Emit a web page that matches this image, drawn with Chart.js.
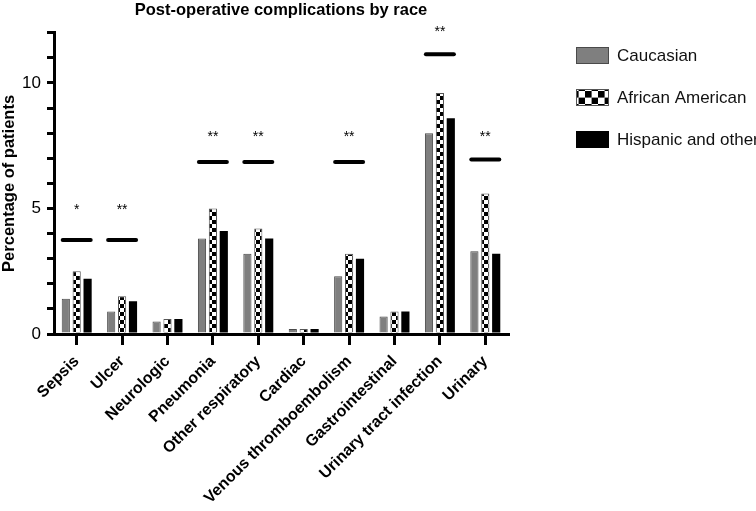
<!DOCTYPE html>
<html>
<head>
<meta charset="utf-8">
<script src="https://cdn.jsdelivr.net/npm/chart.js@4"></script>
<style>
html, body { margin: 0; padding: 0; background: #fff; }
</style>
</head>
<body>
<canvas id="myChart" width="756" height="511"></canvas>
<script>
// data (percent of patients)
var categories = ['Sepsis', 'Ulcer', 'Neurologic', 'Pneumonia', 'Other respiratory', 'Cardiac',
	'Venous thromboembolism', 'Gastrointestinal', 'Urinary tract infection', 'Urinary'];
var caucasian = [1.4, 0.9, 0.5, 3.8, 3.2, 0.2, 2.3, 0.7, 8.0, 3.3];
var africanAmerican = [2.5, 1.5, 0.6, 5.0, 4.2, 0.2, 3.2, 0.9, 9.6, 5.6];
var hispanicOther = [2.2, 1.3, 0.6, 4.1, 3.8, 0.2, 3.0, 0.9, 8.6, 3.2];
var seriesNames = ['Caucasian', 'African American', 'Hispanic and other'];

// significance markers per category
var sigMarks = ['*', '**', '', '**', '**', '', '**', '', '**', '**'];
var sigLineAt = [3.75, 3.75, null, 6.85, 6.85, null, 6.85, null, 11.15, 6.95];
var sigStarAt = [5.1, 5.1, null, 8.0, 8.0, null, 8.0, null, 12.2, 8.0];

var yTickLabels = [0, 5, 10];

var FONT = "'Liberation Sans', Arial, Helvetica, sans-serif";

function checker(size){
	var c = document.createElement('canvas');
	c.width = size * 2;
	c.height = size * 2;
	var g = c.getContext('2d');
	g.fillStyle = '#fff';
	g.fillRect(0, 0, size * 2, size * 2);
	g.fillStyle = '#000';
	g.fillRect(0, 0, size, size);
	g.fillRect(size, size, size, size);
	return g.createPattern(c, 'repeat');
}

var ctx = document.getElementById('myChart').getContext('2d');
var barPattern = checker(4);
var legendPattern = checker(6.6);

var sigPlugin = {
	id: 'sigMarks',
	afterDatasetsDraw: function(chart){
		var x = chart.scales.x, y = chart.scales.y, c = chart.ctx;
		c.save();
		for (var i = 0; i < categories.length; i++){
			if (sigLineAt[i] === null) continue;
			var px = x.getPixelForValue(i);
			var ly = y.getPixelForValue(sigLineAt[i]);
			c.strokeStyle = '#000';
			c.lineWidth = 4;
			c.lineCap = 'round';
			c.beginPath();
			c.moveTo(px - 14, ly);
			c.lineTo(px + 14, ly);
			c.stroke();
			var sy = y.getPixelForValue(sigStarAt[i]);
			c.fillStyle = '#000';
			c.font = '14px ' + FONT;
			c.textAlign = 'center';
			c.textBaseline = 'alphabetic';
			c.fillText(sigMarks[i], px, sy + 8);
		}
		c.restore();
	}
};

var legendPlugin = {
	id: 'sideLegend',
	afterDraw: function(chart){
		var c = chart.ctx;
		c.save();
		chart.data.datasets.forEach(function(ds, i){
			var top = 47 + i * 42;
			c.fillStyle = i === 1 ? legendPattern : ds.backgroundColor;
			c.fillRect(576, top, 33, 17);
			c.strokeStyle = ds.borderColor;
			c.lineWidth = 1;
			c.strokeRect(576.5, top + 0.5, 32, 16);
			c.fillStyle = '#111';
			c.font = '17px ' + FONT;
			c.textAlign = 'left';
			c.textBaseline = 'middle';
			c.fillText(ds.label, 617, top + 9);
		});
		c.restore();
	}
};

var myChart = new Chart(ctx, {
	type: 'bar',
	data: {
		labels: categories,
		datasets: [{
			label: seriesNames[0],
			data: caucasian,
			backgroundColor: '#7f7f7f',
			borderColor: '#4a4a4a',
			borderWidth: 1
		}, {
			label: seriesNames[1],
			data: africanAmerican,
			backgroundColor: barPattern,
			borderColor: '#555',
			borderWidth: 1
		}, {
			label: seriesNames[2],
			data: hispanicOther,
			backgroundColor: '#000',
			borderColor: '#000',
			borderWidth: 0
		}]
	},
	options: {
		responsive: false,
		animation: false,
		categoryPercentage: 0.72,
		barPercentage: 0.75,
		layout: { padding: { left: 0, right: 248, top: 0, bottom: 0 } },
		plugins: {
			legend: { display: false },
			tooltip: { enabled: false },
			title: {
				display: true,
				text: 'Post-operative complications by race',
				fullSize: false,
				color: '#000',
				font: { family: FONT, size: 16.5, weight: 'bold' },
				padding: { top: 1, bottom: 12 }
			}
		},
		scales: {
			x: {
				afterFit: function(scale){ scale.height = 177; },
				grid: { display: true, drawOnChartArea: false, offset: false, tickLength: 11, lineWidth: 3, color: '#000' },
				border: { display: true, width: 3, color: '#000' },
				ticks: {
					color: '#000',
					minRotation: 45,
					maxRotation: 45,
					autoSkip: false,
					padding: 7,
					font: { family: FONT, size: 16, weight: 'bold' }
				}
			},
			y: {
				min: 0,
				max: 12,
				afterFit: function(scale){ scale.width = 54; },
				grid: { display: true, drawOnChartArea: false, tickLength: 7, lineWidth: 3, color: '#000' },
				border: { display: true, width: 3, color: '#000' },
				title: {
					display: true,
					text: 'Percentage of patients',
					color: '#000',
					padding: { top: 0, bottom: 0 },
					font: { family: FONT, size: 16.5, weight: 'bold' }
				},
				ticks: {
					stepSize: 1,
					autoSkip: false,
					color: '#000',
					padding: 6,
					font: { family: FONT, size: 17 },
					callback: function(v){ return yTickLabels.indexOf(v) >= 0 ? v : ''; }
				}
			}
		}
	},
	plugins: [sigPlugin, legendPlugin]
});
</script>
</body>
</html>
